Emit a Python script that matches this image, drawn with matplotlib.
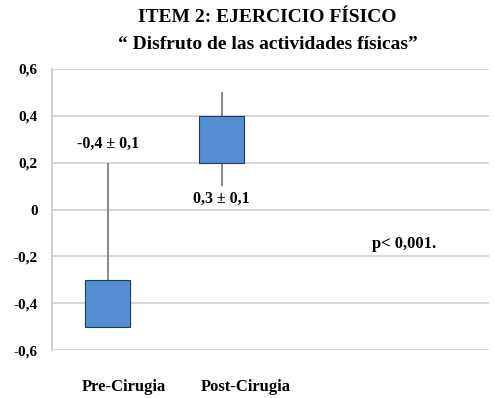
import matplotlib.pyplot as plt

# datos del grafico
grupos = ['Pre-Cirugia', 'Post-Cirugia']
caja_baja = [-0.5, 0.2]
caja_alta = [-0.3, 0.4]
bigote_bajo = [-0.5, 0.1]
bigote_alto = [0.2, 0.5]
etiquetas = ['-0,4 ± 0,1', '0,3 ± 0,1']
pos_etiquetas = [0.28, 0.047]
ticks_y = [-0.6, -0.4, -0.2, 0, 0.2, 0.4, 0.6]
ticks_y_txt = ['-0,6', '-0,4', '-0,2', '0', '0,2', '0,4', '0,6']

plt.rcParams['font.family'] = 'Liberation Serif'
plt.rcParams['font.weight'] = 'bold'

fig = plt.figure(figsize=(4.94, 3.98), dpi=100)
ax = fig.add_axes([0.105, 0.12, 0.885, 0.707])

xs = list(range(len(grupos)))
# bigotes
ax.vlines(xs, bigote_bajo, bigote_alto, color='#7f7f7f', lw=1.3, zorder=2)
# cajas
alturas = [a - b for a, b in zip(caja_alta, caja_baja)]
ax.bar(xs, alturas, bottom=caja_baja, width=0.4, color='#558ed5',
       edgecolor='#1f3a60', linewidth=0.8, zorder=3)

for x, t, y in zip(xs, etiquetas, pos_etiquetas):
    ax.text(x, y, t, ha='center', va='center', fontsize=11.5, fontweight='bold')

ax.text(2.6, -0.145, 'p< 0,001.', ha='center', va='center', fontsize=12,
        fontweight='bold')

ax.set_xlim(-0.49, 3.35)
ax.set_ylim(-0.6, 0.6)
ax.set_yticks(ticks_y)
ax.set_yticklabels(ticks_y_txt, fontsize=11, fontweight='bold')
ax.set_xticks([0.14, 1.21])
ax.set_xticklabels(grupos, fontsize=12, fontweight='bold')
ax.tick_params(axis='x', length=0, pad=21)
ax.tick_params(axis='y', length=0, pad=10)
ax.grid(axis='y', color='#d0d0d0', lw=1.2, zorder=0)
ax.set_axisbelow(True)
for s in ['top', 'right', 'bottom']:
    ax.spines[s].set_visible(False)
ax.spines['left'].set_color('#c8c8c8')
ax.spines['left'].set_linewidth(1.2)

fig.text(0.542, 0.955, 'ITEM 2: EJERCICIO FÍSICO', ha='center', va='center',
         fontsize=14, fontweight='bold')
fig.text(0.542, 0.888, '“ Disfruto de las actividades físicas”', ha='center',
         va='center', fontsize=14, fontweight='bold')

plt.savefig('out.png', dpi=100)
